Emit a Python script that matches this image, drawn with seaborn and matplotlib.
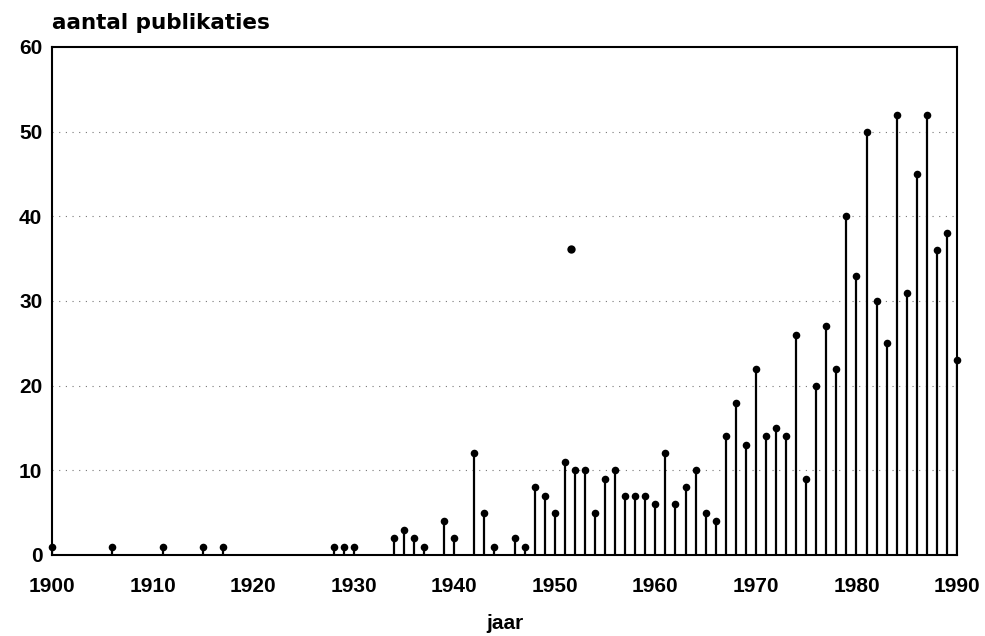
import matplotlib
matplotlib.use("Agg")
import matplotlib.pyplot as plt
import seaborn as sns
import pandas as pd

years = [1900, 1906, 1911, 1915, 1917, 1928, 1929, 1930, 1934, 1935, 1936, 1937,
         1939, 1940, 1942, 1943, 1944, 1946, 1947, 1948, 1949, 1950, 1951, 1952,
         1953, 1954, 1955, 1956, 1957, 1958, 1959, 1960, 1961, 1962, 1963, 1964,
         1965, 1966, 1967, 1968, 1969, 1970, 1971, 1972, 1973, 1974, 1975, 1976,
         1977, 1978, 1979, 1980, 1981, 1982, 1983, 1984, 1985, 1986, 1987, 1988,
         1989, 1990]
counts = [1, 1, 1, 1, 1, 1, 1, 1, 2, 3, 2, 1,
          4, 2, 12, 5, 1, 2, 1, 8, 7, 5, 11, 10,
          10, 5, 9, 10, 7, 7, 7, 6, 12, 6, 8, 10,
          5, 4, 14, 18, 13, 22, 14, 15, 14, 26, 9, 20,
          27, 22, 40, 33, 50, 30, 25, 52, 31, 45, 52, 36,
          38, 23]
# stray point without stem in the original
stray_year = [1951.6]
stray_value = [36.2]

x_ticks = [1900, 1910, 1920, 1930, 1940, 1950, 1960, 1970, 1980, 1990]
y_ticks = [0, 10, 20, 30, 40, 50, 60]

df = pd.DataFrame({"jaar": years, "aantal": counts})

sns.set_theme(style="white")
plt.rcParams["font.family"] = ["Liberation Sans", "DejaVu Sans"]
plt.rcParams["text.color"] = "black"

fig = plt.figure(figsize=(9.85, 6.36), dpi=100)
ax = fig.add_axes([52 / 985, (636 - 555) / 636, (957 - 52) / 985, (555 - 47) / 636])

# gridlines
for v in y_ticks[1:-1]:
    ax.axhline(v, color="#777777", lw=0.8, ls=(0, (1, 5)), zorder=0)

ax.vlines(df["jaar"], 0, df["aantal"], color="black", lw=1.6, zorder=2)
sns.scatterplot(data=df, x="jaar", y="aantal", ax=ax, color="black", s=30,
                edgecolor="black", linewidth=0, zorder=3, clip_on=False, legend=False)
sns.scatterplot(x=stray_year, y=stray_value, ax=ax, color="black", s=36,
                edgecolor="black", linewidth=0, zorder=3, legend=False)

ax.set_xlim(1900, 1990)
ax.set_ylim(0, 60)
ax.set_xticks(x_ticks)
ax.set_yticks(y_ticks)
ax.set_xticklabels([str(t) for t in x_ticks], fontsize=15, fontweight="bold", color="black")
ax.set_yticklabels([str(t) for t in y_ticks], fontsize=15, fontweight="bold", color="black")
ax.tick_params(axis="x", direction="in", length=0, pad=16, colors="black")
ax.tick_params(axis="y", direction="in", length=5, width=1.2, pad=7, colors="black")

for sp in ax.spines.values():
    sp.set_visible(True)
    sp.set_color("black")
    sp.set_linewidth(1.5)

ax.set_xlabel("jaar", fontsize=15, fontweight="bold", labelpad=13, color="black")
ax.set_ylabel("")
fig.text(52 / 985, 1 - 23 / 636, "aantal publikaties", fontsize=15.5,
         fontweight="bold", ha="left", va="center", color="black",
         family=["DejaVu Sans"])

fig.savefig("out.png", dpi=100)
